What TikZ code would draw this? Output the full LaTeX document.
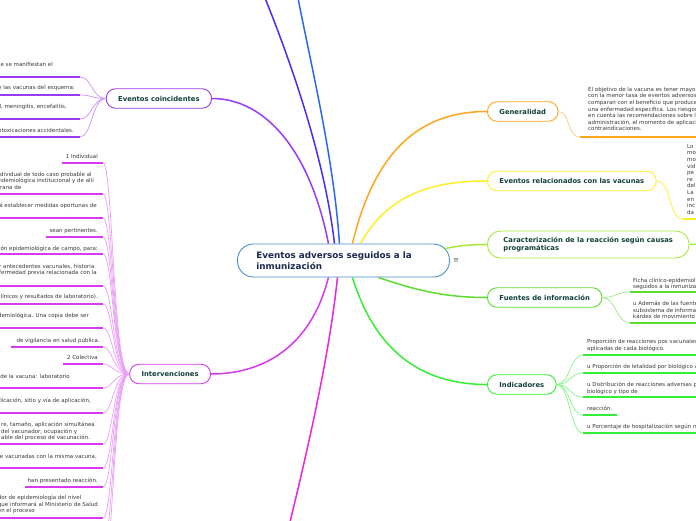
\documentclass[tikz,border=0pt]{standalone}
\usepackage{fontspec}
\setmainfont{DejaVu Sans}
\usetikzlibrary{positioning}
\definecolor{MapNavy}{HTML}{1B2A4E}
\definecolor{MapInk}{HTML}{12403A}
\definecolor{MapGrey}{HTML}{3A3A3A}
\definecolor{MapCore}{HTML}{4A90D0}
\definecolor{MapIndigo}{HTML}{4B2BF5}
\definecolor{MapBlue}{HTML}{2B66F6}
\definecolor{MapViolet}{HTML}{9B3BF5}
\definecolor{MapMagenta}{HTML}{D63BEE}
\definecolor{MapPink}{HTML}{F024D8}
\definecolor{MapOrange}{HTML}{FFA51F}
\definecolor{MapYellow}{HTML}{FFEE2A}
\definecolor{MapLime}{HTML}{A8EA3A}
\definecolor{MapGreen}{HTML}{5ADD2E}
\definecolor{MapBright}{HTML}{36EE36}

\begin{document}
\begin{tikzpicture}[x=1pt,y=-1pt,
  core/.style={draw=MapCore,line width=.9pt,fill=white,rounded corners=16pt,minimum height=33pt,inner xsep=19pt,align=left,font=\bfseries\fontsize{8.8}{11}\selectfont,text=MapNavy},
  topic/.style={draw,line width=.9pt,fill=white,rounded corners=9.5pt,minimum height=19.5pt,inner xsep=12pt,inner ysep=0pt,font=\bfseries\fontsize{6.8}{8.6}\selectfont,text=MapInk},
  leaf/.style={inner sep=0pt,align=left,font=\fontsize{5.5}{6.6}\selectfont,text=MapGrey},
  limb/.style={line width=1.5pt},
  twig/.style={line width=.7pt},
  uline/.style={line width=1.8pt}]
  \useasboundingbox (0,0) rectangle (696,520);
  \clip (0,0) rectangle (696,520);
  \fill[white] (0,0) rectangle (696,520);

  % centre and main topics
  \node[core,anchor=west,text width=174pt] (core) at (237,260.5) {Eventos adversos seguidos a la\\inmunización};
  \node[text=MapGrey!80,font=\fontsize{7}{8}\selectfont] (menu) at (456,261) {≡};
  \node[topic,draw=MapViolet,anchor=east] (coinc) at (212,98.5) {Eventos coincidentes};
  \node[topic,draw=MapMagenta,anchor=east] (inter) at (211,374) {Intervenciones};
  \node[topic,draw=MapOrange,anchor=west] (gen) at (487,111.5) {Generalidad};
  \node[topic,draw=MapYellow,anchor=west] (rel) at (487,181) {Eventos relacionados con las vacunas};
  \node[topic,draw=MapLime,anchor=west,minimum height=27pt,rounded corners=13pt,inner xsep=16pt,align=left] (car) at (487,244.5) {Caracterización de la reacción según causas\\programáticas};
  \node[topic,draw=MapGreen,anchor=west] (fuen) at (487,297.5) {Fuentes de información};
  \node[topic,draw=MapBright,anchor=west] (indi) at (487,384.5) {Indicadores};

  % limbs out of the centre
  \coordinate (topA) at (265,-2);
  \coordinate (topB) at (298,-2);
  \coordinate (botA) at (290,522);
  \coordinate (carx) at (700,244);
  \draw[limb,MapIndigo] ([xshift=-9pt]core.north) .. controls (325,160) and (292,65) .. (topA);
  \draw[limb,MapBlue] ([xshift=-4pt]core.north) .. controls (334,160) and (311,65) .. (topB);
  \draw[limb,MapViolet] ([xshift=-15pt]core.north) .. controls (310,150) and (265,98.5) .. (coinc.east);
  \draw[limb,MapOrange] ([xshift=9pt]core.north) .. controls (375,150) and (420,111.5) .. (gen.west);
  \draw[limb,MapYellow] ([xshift=17pt]core.north) .. controls (390,190) and (440,181) .. (rel.west);
  \draw[limb,MapLime] ([xshift=-5pt,yshift=12pt]core.east) .. controls (465,245) .. (car.west);
  \draw[limb,MapLime] (car.east) -- (carx);
  \draw[limb,MapGreen] ([xshift=35pt]core.south) .. controls (420,292) and (450,297.5) .. (fuen.west);
  \draw[limb,MapBright] ([xshift=9pt]core.south) .. controls (375,350) and (420,384.5) .. (indi.west);
  \draw[limb,MapMagenta] ([xshift=-15pt]core.south) .. controls (310,350) and (260,374) .. (inter.east);
  \draw[limb,MapPink] ([xshift=-6pt]core.south) .. controls (330,350) and (310,440) .. (botA);

  % Eventos coincidentes
  \foreach \n/\ex/\cy/\uy/\txt in {
    1/53/65/77/{ue se manifiestan el},
    2/75/88/95/{e las vacunas del esquema:},
    3/67/107/119/{l, meningitis, encefalitis,},
    4/74/131.5/137/{intoxicaciones accidentales.}}{
    \node[leaf,anchor=north east] (co\n) at (\ex,\cy-3) {\txt};
    \coordinate (cou\n) at (80,\uy);
    \draw[uline,MapViolet] (-2,\uy) -- (cou\n);
    \draw[twig,MapViolet!55] (coinc.west) .. controls (92,98.5) and (92,\uy) .. (cou\n);
  }

  % Intervenciones
  \foreach \n/\ex/\cy/\uy/\sx/\txt in {
    1/98/157/163/62/{1 Individual},
    2/94/175/194/-2/{ndividual de todo caso probable al\\pidemiológica institucional y de allí\\orana de},
    3/97/206/218/-2/{á establecer medidas oportunas de},
    4/98/231/237/46/{sean pertinentes.},
    5/98/249/254/-2/{ión epidemiológica de campo, para:},
    6/97/267/286/-2/{r antecedentes vacunales, historia\\fermedad previa relacionada con la},
    7/98/297/304/-2/{clínicos y resultados de laboratorio).},
    8/89/316/328/-2/{demiológica. Una copia debe ser},
    9/100/341/347/11/{de vigilancia en salud pública.},
    10/98/358/364/63/{2 Colectiva},
    11/70/377/388/-2/{de la vacuna: laboratorio},
    12/91/401/413/-2/{licación, sitio y vía de aplicación,},
    13/95/425/444/-2/{re, tamaño, aplicación simultánea\\del vacunador, ocupación y\\able del proceso de vacunación.},
    14/97/457/468/-2/{e vacunadas con la misma vacuna,},
    15/98/481/487/25/{han presentado reacción.},
    16/98/498/518/-2/{dor de epidemiología del nivel\\que informará al Ministerio de Salud\\en el proceso}}{
    \node[leaf,anchor=north east] (iv\n) at (\ex,\cy-3) {\txt};
    \coordinate (ivu\n) at (103,\uy);
    \draw[uline,MapMagenta] (\sx,\uy) -- (ivu\n);
    \draw[twig,MapMagenta!50] (inter.west) .. controls (113,374) and (113,\uy) .. (ivu\n);
  }
  \foreach \n/\uy in {17/545,18/575}{
    \coordinate (ivu\n) at (103,\uy);
    \draw[twig,MapMagenta!50] (inter.west) .. controls (113,374) and (113,\uy) .. (ivu\n);
  }

  % Generalidad
  \node[leaf,anchor=north west] (ge1) at (588,87) {El objetivo de la vacuna es tener mayor\\con la menor tasa de eventos adversos\\comparan con el beneficio que produce\\una enfermedad específica. Los riesgos\\en cuenta las recomendaciones sobre la\\administración, el momento de aplicación\\contraindicaciones.};
  \coordinate (geu1) at (580,137);
  \draw[uline,MapOrange] (geu1) -- (700,137);
  \draw[twig,MapOrange!60] (gen.east) .. controls (570,111.5) and (567,137) .. (geu1);

  % Eventos relacionados
  \node[leaf,anchor=north west] (re1) at (687,144) {Lo\\mo\\mo\\vid\\pe\\re\\del\\La\\en\\inc\\da};
  \coordinate (reu1) at (683,219);
  \draw[uline,MapYellow] (reu1) -- (700,219);
  \draw[twig,MapYellow] (rel.east) .. controls (672,181) and (668,219) .. (reu1);

  % Fuentes de informacion
  \foreach \n/\cy/\uy/\txt in {
    1/280.5/292/{Ficha clínico-epidemiológica\\seguidos a la inmunización},
    2/304/323/{u Además de las fuentes\\subsistema de información\\kárdex de movimiento}}{
    \node[leaf,anchor=north west] (fu\n) at (633,\cy-3) {\txt};
    \coordinate (fuu\n) at (630,\uy);
    \draw[uline,MapGreen] (fuu\n) -- (700,\uy);
    \draw[twig,MapGreen!60] (fuen.east) .. controls (616,297.5) and (616,\uy) .. (fuu\n);
  }

  % Indicadores
  \foreach \n/\cy/\uy/\ux/\txt in {
    1/342/355/700/{Proporción de reacciones pos vacunales\\aplicadas de cada biológico.},
    2/367/373/700/{u Proporción de letalidad por biológico a},
    3/385/397/700/{u Distribución de reacciones adversas p\\biológico y tipo de},
    4/409/415/617/{reacción.},
    5/427/433/700/{u Porcentaje de hospitalización según n}}{
    \node[leaf,anchor=north west] (in\n) at (587,\cy-3) {\txt};
    \coordinate (inu\n) at (583,\uy);
    \draw[uline,MapBright] (inu\n) -- (\ux,\uy);
    \draw[twig,MapBright!60] (indi.east) .. controls (570,384.5) and (570,\uy) .. (inu\n);
  }
\end{tikzpicture}
\end{document}
